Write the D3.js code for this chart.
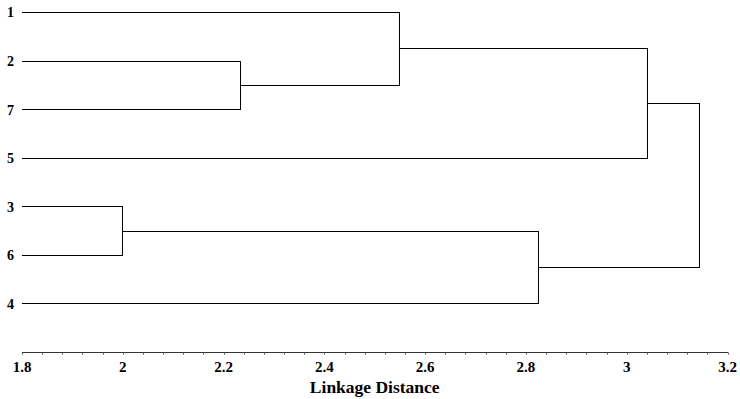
<!DOCTYPE html>
<html><head><meta charset="utf-8">
<script src="https://cdn.jsdelivr.net/npm/d3@7"></script>
<style>body{margin:0;background:#fff}svg{display:block}text{font-family:"Liberation Serif","Times New Roman","DejaVu Serif",serif;font-weight:bold;fill:#000}</style>
</head><body>
<svg id="c" width="740" height="399"></svg>
<script>
// Leaf order (top to bottom)
const leaves = ["1","2","7","5","3","6","4"];
// Merges: [childA, childB, linkage distance] (children are leaf names or merge ids "m0".."m5")
const mergeA = ["2","1","m1","3","m3","m2"];
const mergeB = ["7","m0","5","6","4","m4"];
const mergeDist = [2.234, 2.549, 3.042, 2.0, 2.825, 3.144];
const tickValues = [1.8, 2.0, 2.2, 2.4, 2.6, 2.8, 3.0, 3.2];
const tickLabels = ["1.8","2","2.2","2.4","2.6","2.8","3","3.2"];
const axisTitle = "Linkage Distance";

const svg = d3.select("#c");
const x = d3.scaleLinear().domain([1.8, 3.2]).range([22, 727.5]);
const y = d3.scalePoint().domain(leaves.concat(["_axis"])).range([12.5, 352.5]);
const axisY = y("_axis");

const pos = {};
leaves.forEach(l => pos[l] = {x: x(1.8), y: y(l)});
const g = svg.append("g").attr("fill","none").attr("stroke","#000").attr("stroke-width",1).attr("shape-rendering","crispEdges");
mergeA.forEach((a, i) => {
  const b = mergeB[i];
  const d = mergeDist[i];
  const xm = x(d);
  const pa = pos[a], pb = pos[b];
  g.append("path").attr("d", `M${pa.x},${pa.y}H${xm}V${pb.y}H${pb.x}`);
  pos["m"+i] = {x: xm, y: (pa.y + pb.y) / 2};
});

// leaf labels
svg.append("g").selectAll("text").data(leaves).join("text")
  .attr("x", 14).attr("y", d => y(d)).attr("dy","0.35em")
  .attr("text-anchor","end").style("font-size","14px")
  .text(d => d);

// x axis
const minor = d3.range(0, 36).map(i => 1.8 + i * 0.04);
const ax = svg.append("g").attr("transform", `translate(0,${axisY})`);
ax.append("path").attr("d", `M${x(1.8)},0H${x(3.2)}`).attr("stroke","#333").attr("stroke-width",1).attr("shape-rendering","crispEdges");
ax.selectAll("line.t").data(minor).join("line").attr("class","t")
  .attr("x1", d => Math.round(x(d)) + 0.5).attr("x2", d => Math.round(x(d)) + 0.5)
  .attr("y1", 0).attr("y2", 2).attr("stroke","#555").attr("stroke-width",1);
ax.selectAll("text").data(tickValues).join("text")
  .attr("x", d => x(d)).attr("y", 19.5)
  .attr("text-anchor","middle").style("font-size","15px")
  .text((d, i) => tickLabels[i]);

svg.append("text").attr("x", (x(1.8) + x(3.2)) / 2).attr("y", 392.5)
  .attr("text-anchor","middle").style("font-size","17.5px")
  .text(axisTitle);
</script>
</body></html>
